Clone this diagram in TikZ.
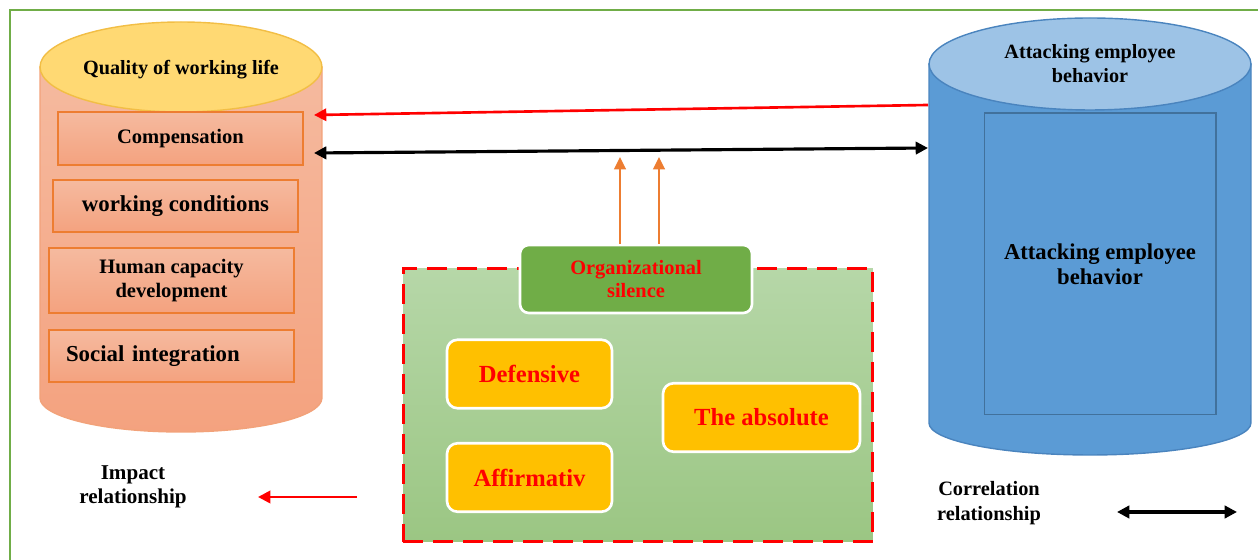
\documentclass[tikz,border=0pt]{standalone}
\usepackage{fontspec}
\setmainfont{Liberation Serif}
\usetikzlibrary{arrows.meta, shapes.geometric}

\definecolor{frameGreen}{HTML}{70AD47}
\definecolor{goldTop}{HTML}{FFD973}
\definecolor{goldEdge}{HTML}{F2BE45}
\definecolor{salmonTop}{HTML}{F5BA9F}
\definecolor{salmonBot}{HTML}{F4A27F}
\definecolor{salmonEdge}{HTML}{F2A27A}
\definecolor{dimEdge}{HTML}{ED7D31}
\definecolor{blueBody}{HTML}{5B9BD5}
\definecolor{blueTop}{HTML}{9DC3E6}
\definecolor{blueEdge}{HTML}{4A84BE}
\definecolor{blueInner}{HTML}{41719C}
\definecolor{silTop}{HTML}{B6D7A8}
\definecolor{silBot}{HTML}{9BC683}
\definecolor{typeYellow}{HTML}{FFC000}
\definecolor{arrOrange}{HTML}{ED7D31}

\begin{document}
\begin{tikzpicture}[x=0.02cm, y=0.02cm,
  cyltop/.style={ellipse, line width=0.8pt, inner sep=0pt, align=center, font=\fontsize{11.5}{13.6}\selectfont\bfseries},
  dim/.style={draw=dimEdge, line width=0.7pt, top color=salmonTop, bottom color=salmonBot, minimum width=4.9cm, align=center, font=\fontsize{11.7}{13.6}\selectfont\bfseries},
  org/.style={draw=white, line width=1.5pt, fill=frameGreen, rounded corners=5pt, minimum width=4.64cm, minimum height=1.36cm, align=center, text=red, font=\fontsize{11.6}{13.6}\selectfont\bfseries},
  kind/.style={draw=white, line width=1.5pt, fill=typeYellow, rounded corners=6pt, minimum height=1.37cm, text=red, font=\fontsize{14}{16}\selectfont\bfseries},
  legend/.style={align=center, font=\fontsize{12}{14}\selectfont\bfseries},
  impact/.style={draw=red, line width=1.5pt, -{Triangle[length=7pt, width=7pt]}},
  corr/.style={draw=black, line width=1.8pt, {Triangle[length=7pt, width=7pt]}-{Triangle[length=7pt, width=7pt]}},
  up/.style={draw=arrOrange, line width=1.6pt, -{Triangle[length=7pt, width=6.5pt]}}
]
\useasboundingbox (0,0) rectangle (1258,560);
\draw[frameGreen, line width=1.6pt] (10,550) rectangle (1275,-10);

\shade[draw=salmonEdge, line width=0.8pt, top color=salmonTop, bottom color=salmonBot]
  (40,493) -- (40,162) arc[start angle=180, end angle=360, x radius=2.82cm, y radius=0.68cm] -- (322,493) -- cycle;
\node[cyltop, draw=goldEdge, fill=goldTop, minimum width=5.64cm, minimum height=1.8cm] (qwl) at (181,493) {\raisebox{-4pt}[0pt][0pt]{Quality of working life}};
\node[dim, minimum height=1.06cm] (comp)   at (180.5,421.5) {Compensation};
\node[dim, minimum height=1.04cm, font=\fontsize{13}{15}\selectfont\bfseries] (work) at (175.5,354) {working conditions};
\node[dim, minimum height=1.3cm]  (human)  at (171.5,279.5) {Human capacity\\development};
\node[dim, minimum height=1.04cm, text width=4.22cm, inner xsep=0.34cm, align=left, font=\fontsize{13}{15}\selectfont\bfseries] (social) at (171.5,204) {Social integration};

\shade[draw=blueEdge, line width=0.8pt, top color=blueBody, bottom color=blueBody]
  (929,496) -- (929,137) arc[start angle=180, end angle=360, x radius=3.22cm, y radius=0.64cm] -- (1251,496) -- cycle;
\node[cyltop, draw=blueEdge, fill=blueTop, minimum width=6.44cm, minimum height=1.84cm] (awb) at (1090,496) {Attacking employee\\behavior};
\node[draw=blueInner, line width=0.6pt, minimum width=4.64cm, minimum height=6.04cm, align=center, font=\fontsize{12.9}{14.2}\selectfont\bfseries] (awbin) at (1100,296) {Attacking employee\\behavior};

\node[draw=red, line width=1.7pt, dash pattern=on 0.4cm off 0.2cm, top color=silTop, bottom color=silBot, minimum width=9.4cm, minimum height=5.48cm] (types) at (638,155) {};
\node[org] (silence) at (636,281) {Organizational\\silence};
\node[kind, minimum width=3.3cm]  (def)  at (529.5,186)   {Defensive};
\node[kind, minimum width=3.3cm]  (aff)  at (529.5,82.5)  {Affirmativ};
\node[kind, minimum width=3.94cm] (abs)  at (761.5,142.5) {The absolute};

\coordinate (qwlR) at (314,445);
\coordinate (awbR) at (928,455);
\coordinate (qwlC) at (314,407);
\coordinate (awbC) at (928,412);
\coordinate (up1) at (620,403);
\coordinate (up2) at (659,403);

\draw[impact] (awbR) -- (qwlR);
\draw[corr] (qwlC) -- (awbC);
\draw[up] (silence.north -| up1) -- (up1);
\draw[up] (silence.north -| up2) -- (up2);

\node[legend] (impactkey) at (133,73) {Impact\\relationship};
\coordinate (impA) at (357,63);
\coordinate (impB) at (258,63);
\draw[impact] (impA) -- (impB);

\node[legend, font=\fontsize{11.6}{14}\selectfont\bfseries] (corrkey) at (989,57) {Correlation\\relationship};
\coordinate (corA) at (1117,48);
\coordinate (corB) at (1237,48);
\draw[corr] (corA) -- (corB);
\end{tikzpicture}
\end{document}
